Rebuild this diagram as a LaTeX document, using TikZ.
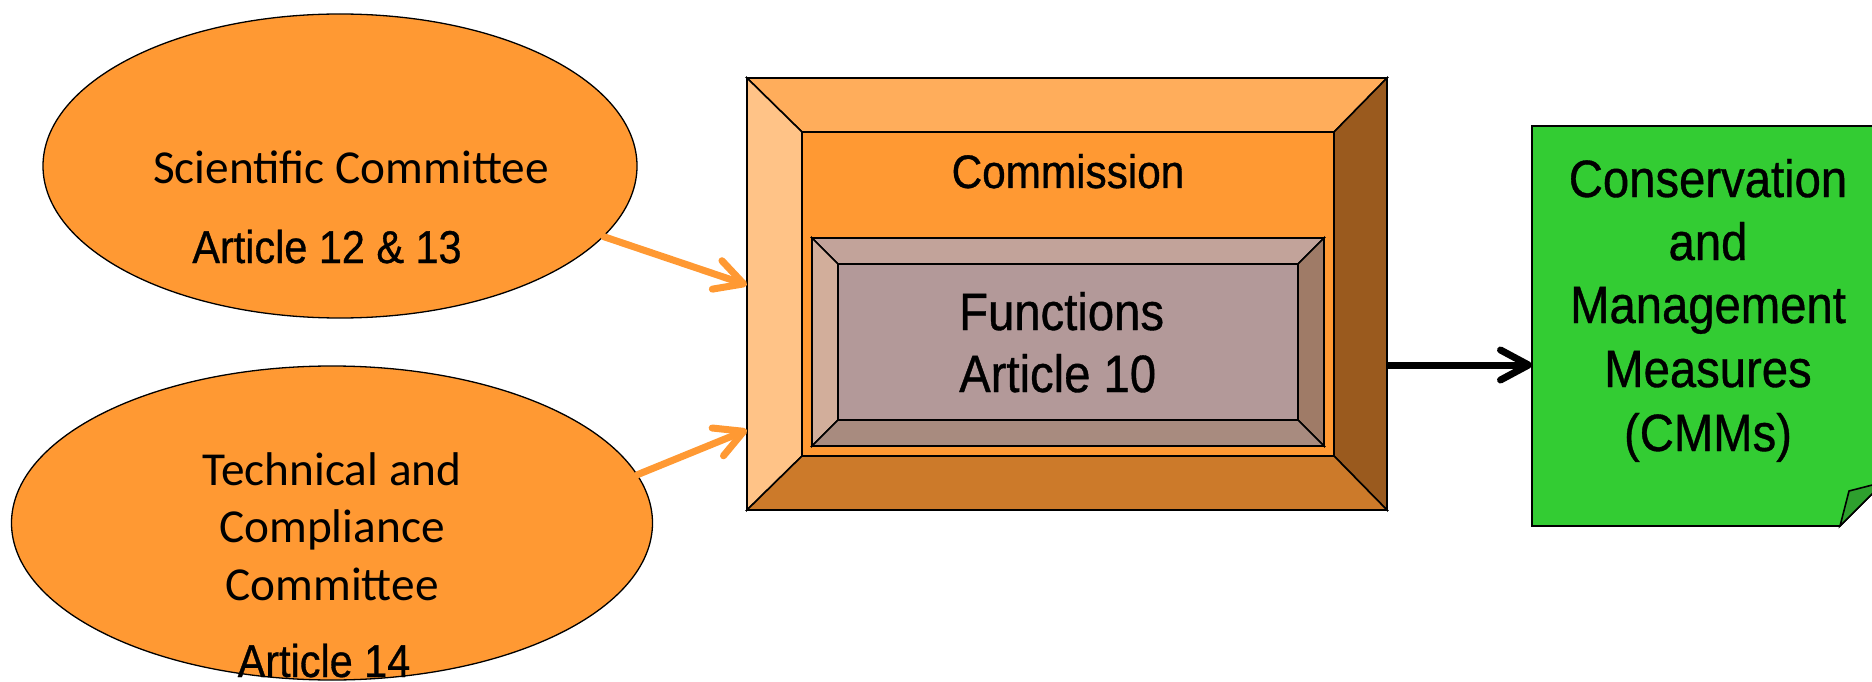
\documentclass[tikz,border=0pt]{standalone}
\usepackage{fontspec}
\setmainfont{Carlito}
\newfontfamily\narrowfont[FakeStretch=0.9,FakeBold=0.7]{Liberation Sans}
\usetikzlibrary{shapes.geometric,arrows.meta}
\definecolor{orfill}{HTML}{FF9933}
\definecolor{cbtop}{HTML}{FFAD5B}
\definecolor{cbleft}{HTML}{FFC387}
\definecolor{cbright}{HTML}{9A5A1E}
\definecolor{cbbottom}{HTML}{CC7A2A}
\definecolor{fface}{HTML}{B39999}
\definecolor{fbtop}{HTML}{C2A39A}
\definecolor{fbleft}{HTML}{D2AE9B}
\definecolor{fbright}{HTML}{9F7B67}
\definecolor{fbbottom}{HTML}{A88B7F}
\definecolor{cmmgreen}{HTML}{33CC33}
\definecolor{cmmflap}{HTML}{2EA02E}
\begin{document}
\begin{tikzpicture}[x=1pt,y=-1pt,
  committee/.style={ellipse, draw=black, line width=1.3pt, fill=orfill, inner sep=0pt},
  frame/.style={rectangle, inner sep=0pt, outer sep=0pt},
  bevel/.style={draw=black, line width=1.6pt, line join=miter},
  lbl/.style={inner sep=0pt, anchor=base, text=black},
  calib/.style={lbl, font=\fontsize{47.3}{56}\selectfont},
  narrowlbl/.style={lbl, font=\narrowfont\fontsize{46}{56}\selectfont},
  commlbl/.style={lbl, font=\narrowfont\fontsize{47}{56}\selectfont},
  biglbl/.style={lbl, font=\narrowfont\fontsize{52.5}{62}\selectfont},
  orarrow/.style={draw=orfill, line width=7pt, line cap=round,
    -{Straight Barb[length=28pt,width=30pt,line cap=round,line join=round]}},
  blkarrow/.style={draw=black, line width=7pt,
    -{Straight Barb[length=28pt,width=30pt,line cap=round,line join=round]}}
]
\useasboundingbox (0,0) rectangle (1872,682);
\clip (0,0) rectangle (1872,682);

% committees
\node[committee, minimum width=594pt, minimum height=304pt] (e1) at (340,166) {};
\node[calib] (t1a) at (351,183) {Scientific Committee};
\node[narrowlbl] (t1b) at (327,263) {Article 12 \& 13};

\node[committee, minimum width=641pt, minimum height=314pt] (e2) at (332,523) {};
\node[calib] (t2a) at (332,485) {Technical and};
\node[calib] (t2b) at (332,542) {Compliance};
\node[calib] (t2c) at (332,600) {Committee};
\node[narrowlbl] (t2d) at (324,677) {Article 14};

% commission box
\node[frame, minimum width=640pt, minimum height=432pt] (comm) at (1067,294) {};
\node[frame, minimum width=532pt, minimum height=324pt] (commface) at (1068,294) {};
\fill[orfill] (commface.north west) rectangle (commface.south east);
\filldraw[bevel, fill=cbtop] (comm.north west) -- (comm.north east) -- (commface.north east) -- (commface.north west) -- cycle;
\filldraw[bevel, fill=cbleft] (comm.north west) -- (commface.north west) -- (commface.south west) -- (comm.south west) -- cycle;
\filldraw[bevel, fill=cbright] (comm.north east) -- (commface.north east) -- (commface.south east) -- (comm.south east) -- cycle;
\filldraw[bevel, fill=cbbottom] (comm.south west) -- (commface.south west) -- (commface.south east) -- (comm.south east) -- cycle;
\draw[bevel] (commface.north west) rectangle (commface.south east);
\node[commlbl] (tcomm) at (1068,188) {Commission};

% functions box
\node[frame, minimum width=512pt, minimum height=208pt] (func) at (1068,342) {};
\node[frame, minimum width=460pt, minimum height=156pt] (funcface) at (1068,342) {};
\fill[fface] (funcface.north west) rectangle (funcface.south east);
\filldraw[bevel, fill=fbtop] (func.north west) -- (func.north east) -- (funcface.north east) -- (funcface.north west) -- cycle;
\filldraw[bevel, fill=fbleft] (func.north west) -- (funcface.north west) -- (funcface.south west) -- (func.south west) -- cycle;
\filldraw[bevel, fill=fbright] (func.north east) -- (funcface.north east) -- (funcface.south east) -- (func.south east) -- cycle;
\filldraw[bevel, fill=fbbottom] (func.south west) -- (funcface.south west) -- (funcface.south east) -- (func.south east) -- cycle;
\draw[bevel] (funcface.north west) rectangle (funcface.south east);
\node[biglbl, anchor=base west] (tf1) at (959,330) {Functions};
\node[biglbl, anchor=base west] (tf2) at (959,392) {Article 10};

% CMM note
\node[frame, minimum width=352pt, minimum height=400pt] (cmm) at (1708,326) {};
\filldraw[bevel, fill=cmmgreen] (cmm.north west) -- (cmm.north east) -- ([yshift=44pt]cmm.south east)
  -- ([xshift=-44pt]cmm.south east) -- (cmm.south west) -- cycle;
\filldraw[bevel, fill=cmmflap] ([xshift=-44pt]cmm.south east) -- ([xshift=-35pt,yshift=35pt]cmm.south east)
  -- ([yshift=44pt]cmm.south east) -- cycle;
\node[biglbl] (c1) at (1708,197) {Conservation};
\node[biglbl] (c2) at (1708,260) {and};
\node[biglbl] (c3) at (1708,323) {Management};
\node[biglbl] (c4) at (1708,387) {Measures};
\node[biglbl] (c5) at (1708,451) {(CMMs)};

% connectors
\coordinate (in1) at (747,285);
\coordinate (in2) at (747,430);
\coordinate (out) at (1387,365);
\draw[orarrow] (e1.-15) -- (comm.west |- in1);
\draw[orarrow] (e2.9) -- (comm.west |- in2);
\draw[blkarrow] (comm.east |- out) -- (cmm.west |- out);
\end{tikzpicture}
\end{document}
